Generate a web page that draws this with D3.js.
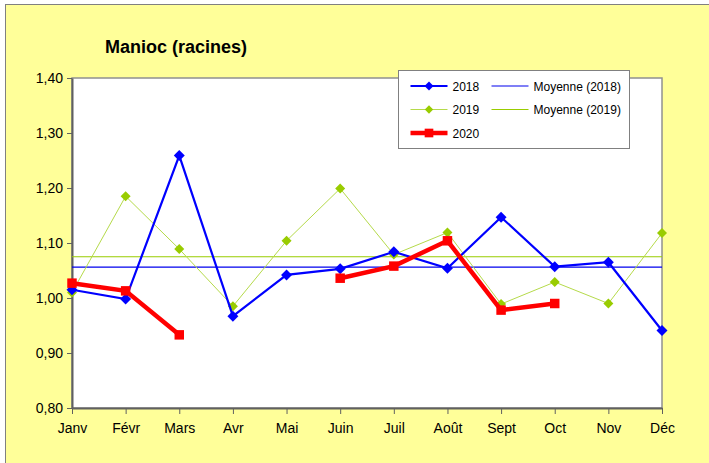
<!DOCTYPE html>
<html>
<head>
<meta charset="utf-8">
<script src="https://cdn.jsdelivr.net/npm/d3@7"></script>
<style>
  body { margin: 0; background: #fff; }
  text { font-family: "Liberation Sans", Arial, sans-serif; fill: #000; }
</style>
</head>
<body>
<div id="chart"></div>
<script>
// data
var months = ["Janv", "Févr", "Mars", "Avr", "Mai", "Juin", "Juil", "Août", "Sept", "Oct", "Nov", "Déc"];
var v2018 = [1.015, 0.998, 1.259, 0.967, 1.042, 1.053, 1.084, 1.054, 1.147, 1.057, 1.065, 0.941];
var v2019 = [1.010, 1.185, 1.089, 0.985, 1.104, 1.199, 1.079, 1.119, 0.989, 1.029, 0.990, 1.118];
var v2020 = [1.027, 1.013, 0.933, null, null, 1.036, 1.058, 1.104, 0.978, 0.990, null, null];
var mean2018 = 1.056;
var mean2019 = 1.075;
var yTicks = [0.80, 0.90, 1.00, 1.10, 1.20, 1.30, 1.40];

var svg = d3.select("#chart")
    .append("svg")
    .attr("width", 709)
    .attr("height", 463),
    margin = { top: 78, right: 47, bottom: 55, left: 72 },
    width = 709 - margin.left - margin.right,
    height = 463 - margin.top - margin.bottom;

// chart area background
svg.append("rect")
    .attr("x", 5.5).attr("y", 4.5)
    .attr("width", 720).attr("height", 480)
    .attr("fill", "#FFFF99")
    .attr("stroke", "#808080")
    .attr("stroke-width", 1);

svg.append("text")
    .attr("x", 105)
    .attr("y", 53)
    .style("font-size", "18px")
    .style("font-weight", "bold")
    .text("Manioc (racines)");

var g = svg.append("g")
    .attr("transform", "translate(" + margin.left + "," + margin.top + ")");

var x = d3.scalePoint()
    .domain(months)
    .range([0, width]);

var y = d3.scaleLinear()
    .domain([0.8, 1.4])
    .range([height, 0]);

var fmt = function (d) { return d3.format(".2f")(d).replace(".", ","); };

// plot area
g.append("rect")
    .attr("width", width)
    .attr("height", height)
    .attr("fill", "#fff")
    .attr("stroke", "#909090")
    .attr("stroke-width", 1.5);

// axes
var yAxis = g.append("g")
    .call(d3.axisLeft(y).tickValues(yTicks).tickFormat(fmt).tickSize(5).tickSizeOuter(0).tickPadding(4));
var xAxis = g.append("g")
    .attr("transform", "translate(0," + height + ")")
    .call(d3.axisBottom(x).tickSize(6).tickSizeOuter(0).tickPadding(9));

[yAxis, xAxis].forEach(function (a) {
    a.select(".domain").attr("stroke", "#606060").attr("stroke-width", 2);
    a.selectAll(".tick line").attr("stroke", "#606060");
    a.selectAll("text").style("font-size", "14px").attr("fill", "#000")
        .style("font-family", "'Liberation Sans', Arial, sans-serif");
});

// mean lines
g.append("line")
    .attr("x1", 0).attr("x2", width)
    .attr("y1", y(mean2019)).attr("y2", y(mean2019))
    .attr("stroke", "#99CC00").attr("stroke-width", 1.2);
g.append("line")
    .attr("x1", 0).attr("x2", width)
    .attr("y1", y(mean2018)).attr("y2", y(mean2018))
    .attr("stroke", "#0000EE").attr("stroke-width", 1.2);

// square diamond: a square symbol turned 45 degrees
var diamond = d3.symbol().type(d3.symbolSquare);
var square = d3.symbol().type(d3.symbolSquare);

function series(vals, color, markColor, lineW, symbol, size, rot) {
    var pts = vals.map(function (v, i) { return { m: months[i], v: v }; });
    g.append("path")
        .datum(pts)
        .attr("fill", "none")
        .attr("stroke", color)
        .attr("stroke-width", lineW)
        .attr("d", d3.line()
            .defined(function (d) { return d.v != null; })
            .x(function (d) { return x(d.m); })
            .y(function (d) { return y(d.v); }));
    g.append("g").selectAll("path")
        .data(pts.filter(function (d) { return d.v != null; }))
        .enter().append("path")
        .attr("transform", function (d) { return "translate(" + x(d.m) + "," + y(d.v) + ") rotate(" + rot + ")"; })
        .attr("d", symbol.size(size))
        .attr("fill", markColor);
}

series(v2019, "#B5DA4A", "#99CC00", 1, diamond, 50, 45);
series(v2018, "#0000FF", "#0000FF", 2.2, diamond, 60, 45);
series(v2020, "#FF0000", "#FF0000", 4.5, square, 90, 0);

// legend
var legend = svg.append("g").attr("transform", "translate(398.5,70.5)");
legend.append("rect")
    .attr("width", 231).attr("height", 78)
    .attr("fill", "#fff")
    .attr("stroke", "#808080");

var legItems = [
    { label: "2018", color: "#0000FF", w: 2.2, sym: diamond, size: 40, rot: 45, col: 0, row: 0 },
    { label: "2019", color: "#B5DA4A", mk: "#99CC00", w: 1, sym: diamond, size: 35, rot: 45, col: 0, row: 1 },
    { label: "2020", color: "#FF0000", w: 4.5, sym: square, size: 75, rot: 0, col: 0, row: 2 },
    { label: "Moyenne (2018)", color: "#0000EE", w: 1.2, col: 1, row: 0 },
    { label: "Moyenne (2019)", color: "#99CC00", w: 1.2, col: 1, row: 1 }
];
legItems.forEach(function (d) {
    var lx = d.col === 0 ? 12 : 93;
    var ly = 15.5 + d.row * 23.5;
    legend.append("line")
        .attr("x1", lx).attr("x2", lx + 37)
        .attr("y1", ly).attr("y2", ly)
        .attr("stroke", d.color).attr("stroke-width", d.w);
    if (d.sym) {
        legend.append("path")
            .attr("transform", "translate(" + (lx + 18.5) + "," + ly + ") rotate(" + d.rot + ")")
            .attr("d", d.sym.size(d.size))
            .attr("fill", d.mk || d.color);
    }
    legend.append("text")
        .attr("x", lx + 42)
        .attr("y", ly + 4.5)
        .style("font-size", "12px")
        .text(d.label);
});
</script>
</body>
</html>
